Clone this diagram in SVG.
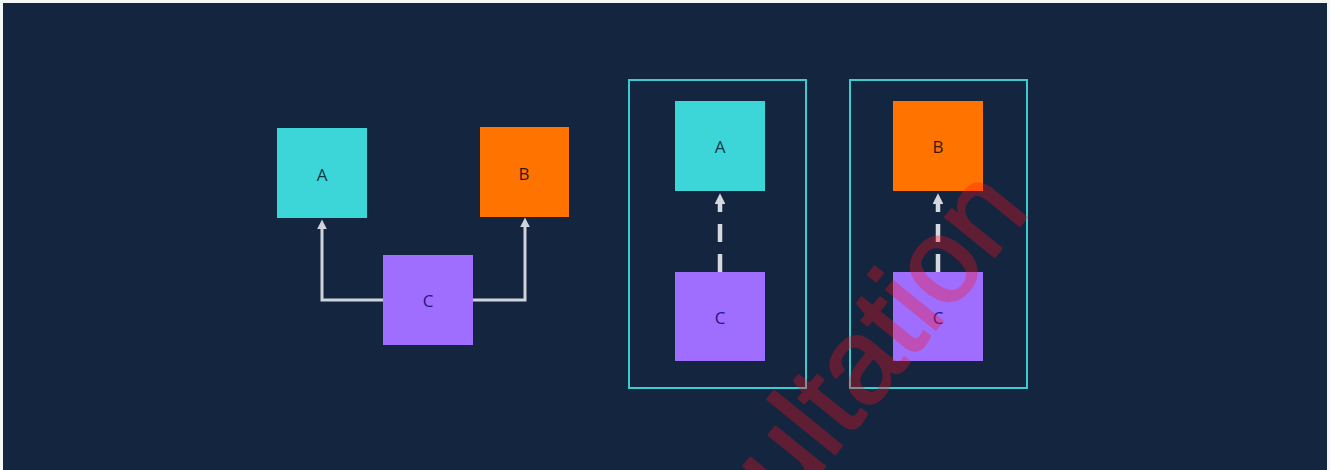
<svg xmlns="http://www.w3.org/2000/svg" width="1330" height="470" viewBox="0 0 1330 470">
<style>
.lbl{font-family:"Open Sans","Noto Sans","Liberation Sans",sans-serif;font-size:17px;text-anchor:middle;dominant-baseline:central}
.a{fill:#3dd6d8}
.b{fill:#ff7300}
.c{fill:#9f6efe}
.ta{fill:#123846}
.tb{fill:#3a1606}
.tc{fill:#2b1580}
.frame{fill:none;stroke:#3ecbd0;stroke-width:2}
.solid{fill:none;stroke:#cfd3da;stroke-width:3}
.dash{fill:none;stroke:#d5d8de;stroke-width:4.5;stroke-dasharray:18 12}
</style>
<defs>
<marker id="ah" viewBox="0 0 10 10" refX="0" refY="5" markerWidth="3.3" markerHeight="3.2" orient="auto" markerUnits="strokeWidth">
<path d="M0,0 L10,5 L0,10 Z" fill="#cfd3da"/>
</marker>
<marker id="ahd" viewBox="0 0 10 10" refX="0" refY="5" markerWidth="2.6" markerHeight="2.4" orient="auto" markerUnits="strokeWidth">
<path d="M0,0 L10,5 L0,10 Z" fill="#d5d8de"/>
</marker>
</defs>
<rect x="0" y="0" width="1330" height="470" fill="#f4f5f7"/>
<rect x="3" y="3" width="1324" height="467" fill="#13253f"/>

<g id="frame1"><rect class="frame" x="629" y="80" width="177" height="308"/></g>
<g id="frame2"><rect class="frame" x="850" y="80" width="177" height="308"/></g>

<g id="connectors">
<path class="solid" d="M383,300 H322 V229" marker-end="url(#ah)"/>
<path class="solid" d="M473,300 H525 V227" marker-end="url(#ah)"/>
<path class="dash" d="M720,272 V204" marker-end="url(#ahd)"/>
<path class="dash" d="M938,272 V204" marker-end="url(#ahd)"/>
</g>

<g id="nodeA1"><rect class="a" x="277" y="128" width="90" height="90"/><text class="lbl ta" x="322" y="174">A</text></g>
<g id="nodeB1"><rect class="b" x="480" y="127" width="89" height="90"/><text class="lbl tb" x="524" y="173">B</text></g>
<g id="nodeC1"><rect class="c" x="383" y="255" width="90" height="90"/><text class="lbl tc" x="428" y="300">C</text></g>

<g id="nodeA2"><rect class="a" x="675" y="101" width="90" height="90"/><text class="lbl ta" x="720" y="146">A</text></g>
<g id="nodeC2"><rect class="c" x="675" y="272" width="90" height="89"/><text class="lbl tc" x="720" y="317">C</text></g>

<g id="nodeB3"><rect class="b" x="893" y="101" width="90" height="90"/><text class="lbl tb" x="938" y="146">B</text></g>
<g id="nodeC3"><rect class="c" x="893" y="272" width="90" height="89"/><text class="lbl tc" x="938" y="317">C</text></g>

<g opacity="0.32">
<text x="788" y="512" transform="rotate(-51 788 512)" font-family="Liberation Sans, Arial, sans-serif" font-size="120" fill="#ff1020" stroke="#ff1020" stroke-width="2.5" stroke-linejoin="round">ultation</text>
</g>
</svg>
